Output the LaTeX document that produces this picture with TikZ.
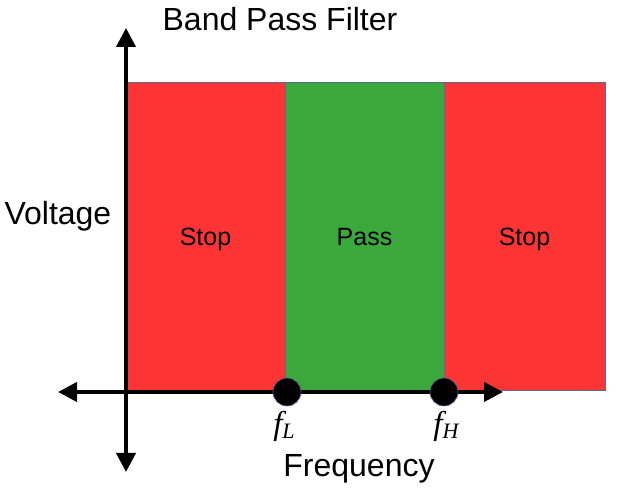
\documentclass[tikz,border=0pt]{standalone}
\usepackage{fontspec}
\setmainfont{Liberation Sans}
\newfontfamily\mathserif{Liberation Serif}
\usetikzlibrary{arrows.meta,positioning}
\definecolor{stopred}{RGB}{252,52,52}
\definecolor{passgreen}{RGB}{58,168,58}
\definecolor{edgeblue}{RGB}{90,105,150}
\tikzset{
  band/.style={draw=edgeblue, line width=0.8pt},
  axis/.style={line width=4pt, {Triangle[length=19pt,width=19pt]}-{Triangle[length=19pt,width=19pt]}},
  cutoff/.style={circle, fill=black, draw=edgeblue, line width=0.6pt, inner sep=0pt, minimum size=28pt},
  cutlbl/.style={font=\mathserif\itshape\fontsize{33}{35}\selectfont},
  bandlbl/.style={font=\fontsize{25}{28}\selectfont, anchor=base},
  axlbl/.style={font=\fontsize{32}{35}\selectfont}
}
\begin{document}
\begin{tikzpicture}[x=1pt, y=-1pt]
  \useasboundingbox (0,0) rectangle (633,502);
  % stop / pass / stop bands
  \foreach \lbl/\col/\xa/\xb in {Stop/stopred/126/285, Pass/passgreen/285/444, Stop/stopred/444/605} {
    \fill[\col, band] (\xa,82) rectangle (\xb,390);
    \node[bandlbl] at ({(\xa+\xb)/2},246) {\lbl};
  }
  % axes
  \coordinate (ytop) at (126,28);
  \coordinate (ybot) at (126,472);
  \coordinate (xlft) at (58,392);
  \coordinate (xrgt) at (503,392);
  \draw[axis] (ybot) -- (ytop);
  \draw[axis] (xlft) -- (xrgt);
  % cut-off frequencies
  \node[cutoff] (fL) at (287,392) {};
  \node[cutoff] (fH) at (444,392) {};
  \node[cutlbl] (lblL) at (284,426) {f\raisebox{-0.3ex}{\fontsize{22}{24}\selectfont L}};
  \node[cutlbl] (lblH) at (446,426) {f\raisebox{-0.3ex}{\fontsize{22}{24}\selectfont H}};
  % titles
  \node[axlbl] (title) at (280,19) {Band Pass Filter};
  \node[axlbl, anchor=west] (volt) at (1,216) {Voltage};
  \node[axlbl] (freq) at (359,469) {Frequency};
\end{tikzpicture}
\end{document}
